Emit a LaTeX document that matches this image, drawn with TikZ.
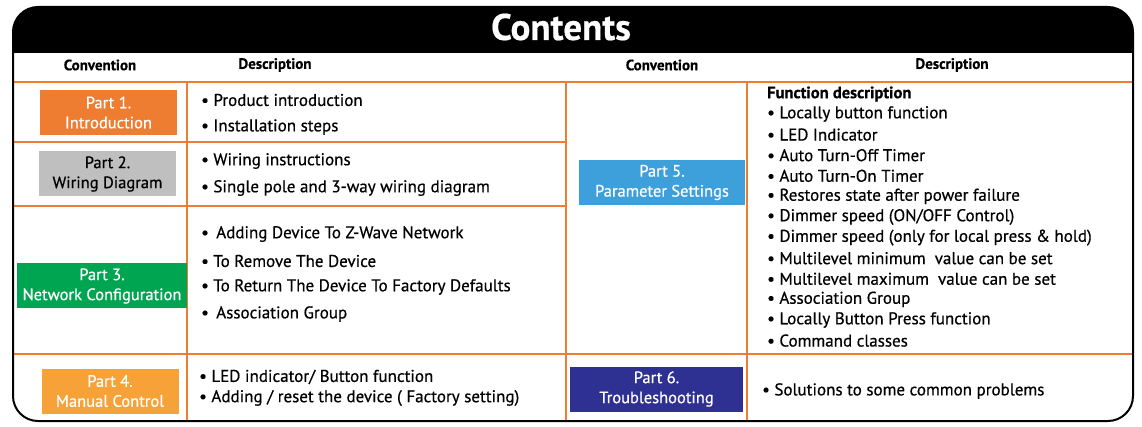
\documentclass[tikz,border=0pt]{standalone}
\usepackage{fontspec}
\setmainfont{PT Sans}[FakeBold=0.5]
\newfontfamily\med{PT Sans}[FakeBold=0.6]
\begin{document}
\begin{tikzpicture}[x=1pt,y=-1pt]
\definecolor{orl}{HTML}{EE7D31}
\tikzset{ol/.style={draw=orl,line width=2.6pt},
  part/.style={minimum width=137pt,minimum height=45pt,inner sep=0pt,align=center,font=\med\fontsize{16.5}{20}\selectfont,text=white},
  txt/.style={anchor=west,inner sep=0pt,font=\med\fontsize{17}{20}\selectfont},
  hd/.style={font=\bfseries\fontsize{15}{17}\selectfont,inner sep=0pt}}
\useasboundingbox (0,0) rectangle (1142,427);
\fill[black] (13,53) -- (13,32) arc[start angle=180,end angle=90,x radius=25,y radius=-25] -- (1108,7) arc[start angle=90,end angle=0,x radius=25,y radius=-25] -- (1133,53) -- cycle;
\node[text=white,font=\bfseries\fontsize{37}{40}\selectfont,inner sep=0pt] (title) at (561,27) {Contents};
\draw[ol] (13,82) -- (1133,82);
\draw[ol] (13,142) -- (566,142);
\draw[ol] (13,206) -- (566,206);
\draw[ol] (13,354) -- (1133,354);
\draw[ol] (187,82) -- (187,421);
\draw[ol] (566,82) -- (566,421);
\draw[ol] (747,82) -- (747,421);
\draw[black,line width=2pt,rounded corners=25pt] (13,7) rectangle (1133,421);
\node[hd] (h1) at (100,65) {Convention};
\node[hd] (h2) at (275,65) {Description};
\node[hd] (h3) at (662,65) {Convention};
\node[hd] (h4) at (952,65) {Description};
\node[part,fill=orl] (p1) at (108.5,112.5) {Part 1.\\Introduction};
\node[part,fill=black!25,text=black] (p2) at (107.5,174) {Part 2.\\Wiring Diagram};
\node[part,fill={rgb,255:red,0;green,165;blue,81},minimum width=170pt] (p3) at (102,286) {Part 3.\\Network Configuration};
\node[part,fill={rgb,255:red,247;green,162;blue,56}] (p4) at (110,391) {Part 4.\\Manual Control};
\node[part,fill={rgb,255:red,62;green,160;blue,218},minimum width=166pt] (p5) at (662,182.5) {Part 5.\\Parameter Settings};
\node[part,fill={rgb,255:red,46;green,49;blue,146},minimum width=173pt] (p6) at (656.5,389) {Part 6.\\Troubleshooting};
\node[txt] (a1) at (201,100) {• Product introduction};
\node[txt] (a2) at (201,127) {• Installation steps};
\node[txt] (b1) at (201,161) {• Wiring instructions};
\node[txt] (b2) at (201,188) {• Single pole and 3-way wiring diagram};
\node[txt] (c1) at (201,234) {•\, Adding Device To Z-Wave Network};
\node[txt] (c2) at (201,261) {• To Remove The Device};
\node[txt] (c3) at (201,287) {• To Return The Device To Factory Defaults};
\node[txt] (c4) at (201,314) {•\, Association Group};
\node[txt] (d1) at (199,377) {• LED indicator/ Button function};
\node[txt] (d2) at (199,398) {• Adding / reset the device ( Factory setting)};
\node[txt,font=\bfseries\fontsize{16.5}{18}\selectfont] (f0) at (767,94) {Function description};
\foreach \t [count=\i] in {Locally button function,LED Indicator,Auto Turn-Off Timer,Auto Turn-On Timer,Restores state after power failure,Dimmer speed (ON/OFF Control),Dimmer speed (only for local press \& hold),Multilevel minimum\ \ value can be set,Multilevel maximum\ \ value can be set,Association Group,Locally Button Press function,Command classes}
  \node[txt] (f\i) at (767,{114+20.6*(\i-1)}) {• \t};
\node[txt] (g1) at (762,391) {• Solutions to some common problems};
\end{tikzpicture}
\end{document}
